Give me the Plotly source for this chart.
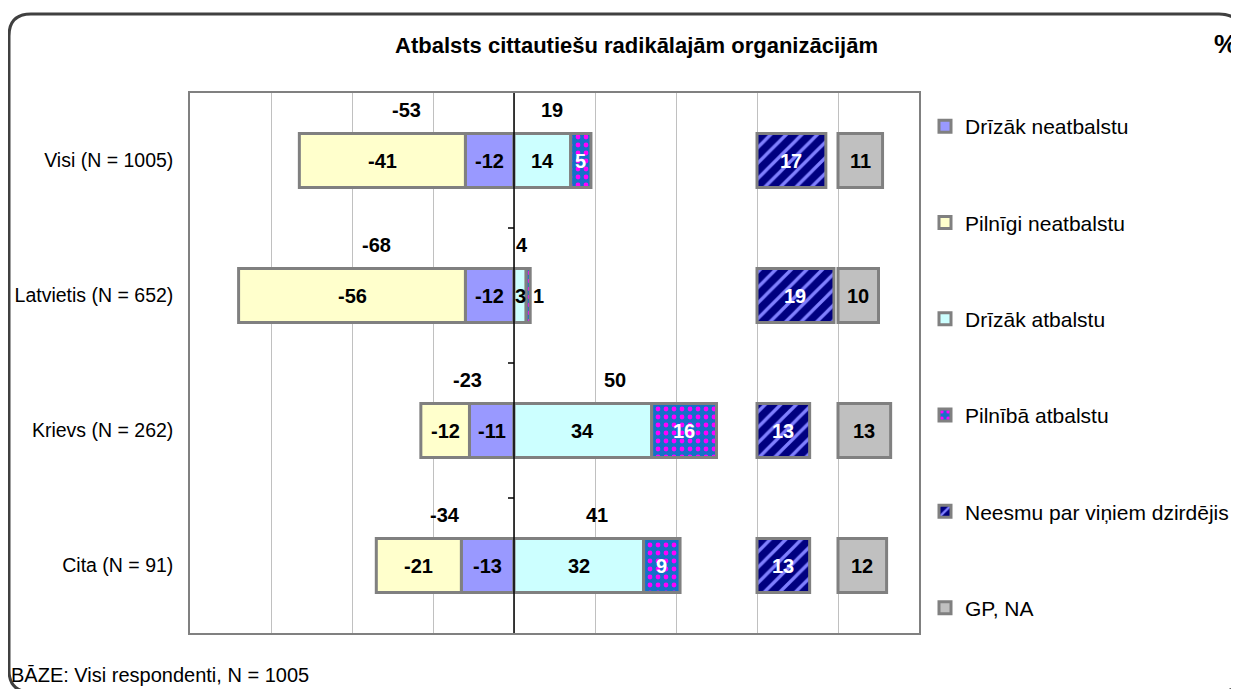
import plotly.graph_objects as go

# ---------------- data ----------------
categories = ["Visi (N = 1005)", "Latvietis (N = 652)", "Krievs (N = 262)", "Cita (N = 91)"]
rather_not = [-12, -12, -11, -13]        # Drīzāk neatbalstu
fully_not = [-41, -56, -12, -21]         # Pilnīgi neatbalstu
rather_yes = [14, 3, 34, 32]             # Drīzāk atbalstu
fully_yes = [5, 1, 16, 9]                # Pilnībā atbalstu
not_heard = [17, 19, 13, 13]             # Neesmu par viņiem dzirdējis
dk_na = [11, 10, 13, 12]                 # GP, NA
neg_totals = [-53, -68, -23, -34]
pos_totals = [19, 4, 50, 41]

title_text = "Atbalsts cittautiešu radikālajām organizācijām"
footer_text = "BĀZE: Visi respondenti, N = 1005"

# ---------------- layout constants ----------------
OFF = 8                      # page body margin
W, H = 1239 - OFF, 689 - OFF
ML, MT = 190 - OFF, 93 - OFF
MR = W - (919 - OFF)
MB = H - (633 - OFF)
PW, PH = W - ML - MR, H - MT - MB
NOT_HEARD_BASE = 60
DK_BASE = 80
FONT = "Liberation Sans, Arial, sans-serif"
BORDER = "#808080"


def px(x):
    """page x (reference pixels) -> paper fraction"""
    return (x - OFF - ML) / PW


def py(y):
    """page y (reference pixels) -> paper fraction"""
    return (H - MB - (y - OFF)) / PH


fig = go.Figure()

series = [
    ("Drīzāk neatbalstu", rather_not, [0] * 4, dict(color="#9999FF"), "black"),
    ("Pilnīgi neatbalstu", fully_not, rather_not, dict(color="#FFFFCC"), "black"),
    ("Drīzāk atbalstu", rather_yes, [0] * 4, dict(color="#CCFFFF"), "black"),
    ("Pilnībā atbalstu", fully_yes, rather_yes,
     dict(color="#1470C8", pattern=dict(shape=".", fgcolor="#FF00FF", bgcolor="#1470C8",
                                        size=8, solidity=0.28, fillmode="replace")), "white"),
    ("Neesmu par viņiem dzirdējis", not_heard, [NOT_HEARD_BASE] * 4,
     dict(color="#000080", pattern=dict(shape="/", fgcolor="#8080FF", bgcolor="#000080",
                                        size=11, solidity=0.3, fillmode="replace")), "white"),
    ("GP, NA", dk_na, [DK_BASE] * 4, dict(color="#C0C0C0"), "black"),
]

LBL = 20
annotations = []
for i, (name, vals, base, mk, tcol) in enumerate(series):
    mk = dict(mk)
    mk["line"] = dict(color=BORDER, width=3)
    fig.add_trace(go.Bar(
        name=name, y=categories, x=vals, base=base, orientation="h",
        marker=mk, width=0.4, legendgroup=f"g{i}", hoverinfo="skip",
    ))
    for c, v, b in zip(categories, vals, base):
        if abs(v) < 2:
            annotations.append(dict(x=b + v, y=c, xref="x", yref="y", text=f"<b>{v}</b>",
                                    showarrow=False, xanchor="left", xshift=1,
                                    font=dict(family=FONT, size=LBL, color="black")))
        else:
            annotations.append(dict(x=b + v / 2, y=c, xref="x", yref="y", text=f"<b>{v}</b>",
                                    showarrow=False, xanchor="center",
                                    font=dict(family=FONT, size=LBL, color=tcol)))

for c, nt, pt in zip(categories, neg_totals, pos_totals):
    for t in (nt, pt):
        annotations.append(dict(x=t / 2, y=c, xref="x", yref="y", text=f"<b>{t}</b>",
                                showarrow=False, yshift=51,
                                font=dict(family=FONT, size=LBL, color="black")))

# title, percent sign, footer
annotations.append(dict(x=px(636), y=py(45), xref="paper", yref="paper", text=f"<b>{title_text}</b>",
                        showarrow=False, xanchor="center", yanchor="middle",
                        font=dict(family=FONT, size=22, color="black")))
annotations.append(dict(x=px(1212), y=py(44), xref="paper", yref="paper", text="<b>%</b>",
                        showarrow=False, xanchor="left", yanchor="middle",
                        font=dict(family=FONT, size=26, color="black")))
annotations.append(dict(x=px(9), y=py(675), xref="paper", yref="paper", text=footer_text,
                        showarrow=False, xanchor="left", yanchor="middle",
                        font=dict(family=FONT, size=20, color="black")))

shapes = []
# zero (category) axis line
shapes.append(dict(type="line", xref="x", yref="paper", x0=0, x1=0, y0=0, y1=1,
                   line=dict(color="black", width=1.5)))
# category boundary tick marks on the zero line
for k in range(1, len(categories)):
    yk = 1 - k / len(categories)
    shapes.append(dict(type="line", xref="paper", yref="paper",
                       x0=px(508), x1=px(514), y0=yk, y1=yk,
                       line=dict(color="black", width=1.5)))

# rounded outer frame
L, T, R, B, r = 9, 14, 1241, 692, 22
path = (f"M {px(L)},{py(B - r)} L {px(L)},{py(T + r)} Q {px(L)},{py(T)} {px(L + r)},{py(T)} "
        f"L {px(R - r)},{py(T)} Q {px(R)},{py(T)} {px(R)},{py(T + r)} "
        f"L {px(R)},{py(B - r)} Q {px(R)},{py(B)} {px(R - r)},{py(B)} "
        f"L {px(L + r)},{py(B)} Q {px(L)},{py(B)} {px(L)},{py(B - r)} Z")
shapes.append(dict(type="path", xref="paper", yref="paper", path=path,
                   line=dict(color="#404040", width=3), layer="below"))

fig.update_layout(
    width=W, height=H,
    margin=dict(l=ML, r=MR, t=MT, b=MB, autoexpand=False),
    barmode="overlay",
    paper_bgcolor="white", plot_bgcolor="white",
    font=dict(family=FONT, size=18, color="black"),
    showlegend=True,
    legend=dict(x=px(925), y=py(106), xanchor="left", yanchor="top",
                font=dict(family=FONT, size=21, color="black"),
                tracegroupgap=66, traceorder="grouped", itemwidth=30,
                bgcolor="rgba(0,0,0,0)"),
    xaxis=dict(range=[-80, 100], dtick=20, tick0=0, showgrid=True, gridcolor="#C0C0C0",
               gridwidth=1, zeroline=False, showticklabels=False, ticks="",
               showline=True, linecolor=BORDER, linewidth=1.5, mirror=True, fixedrange=True),
    yaxis=dict(categoryorder="array", categoryarray=categories, autorange="reversed",
               showgrid=False, zeroline=False, ticks="", ticklabelstandoff=11,
               tickfont=dict(family=FONT, size=19.5, color="black"),
               showline=True, linecolor=BORDER, linewidth=1.5, mirror=True, fixedrange=True),
    annotations=annotations,
    shapes=shapes,
)

fig.write_html("out.html")
